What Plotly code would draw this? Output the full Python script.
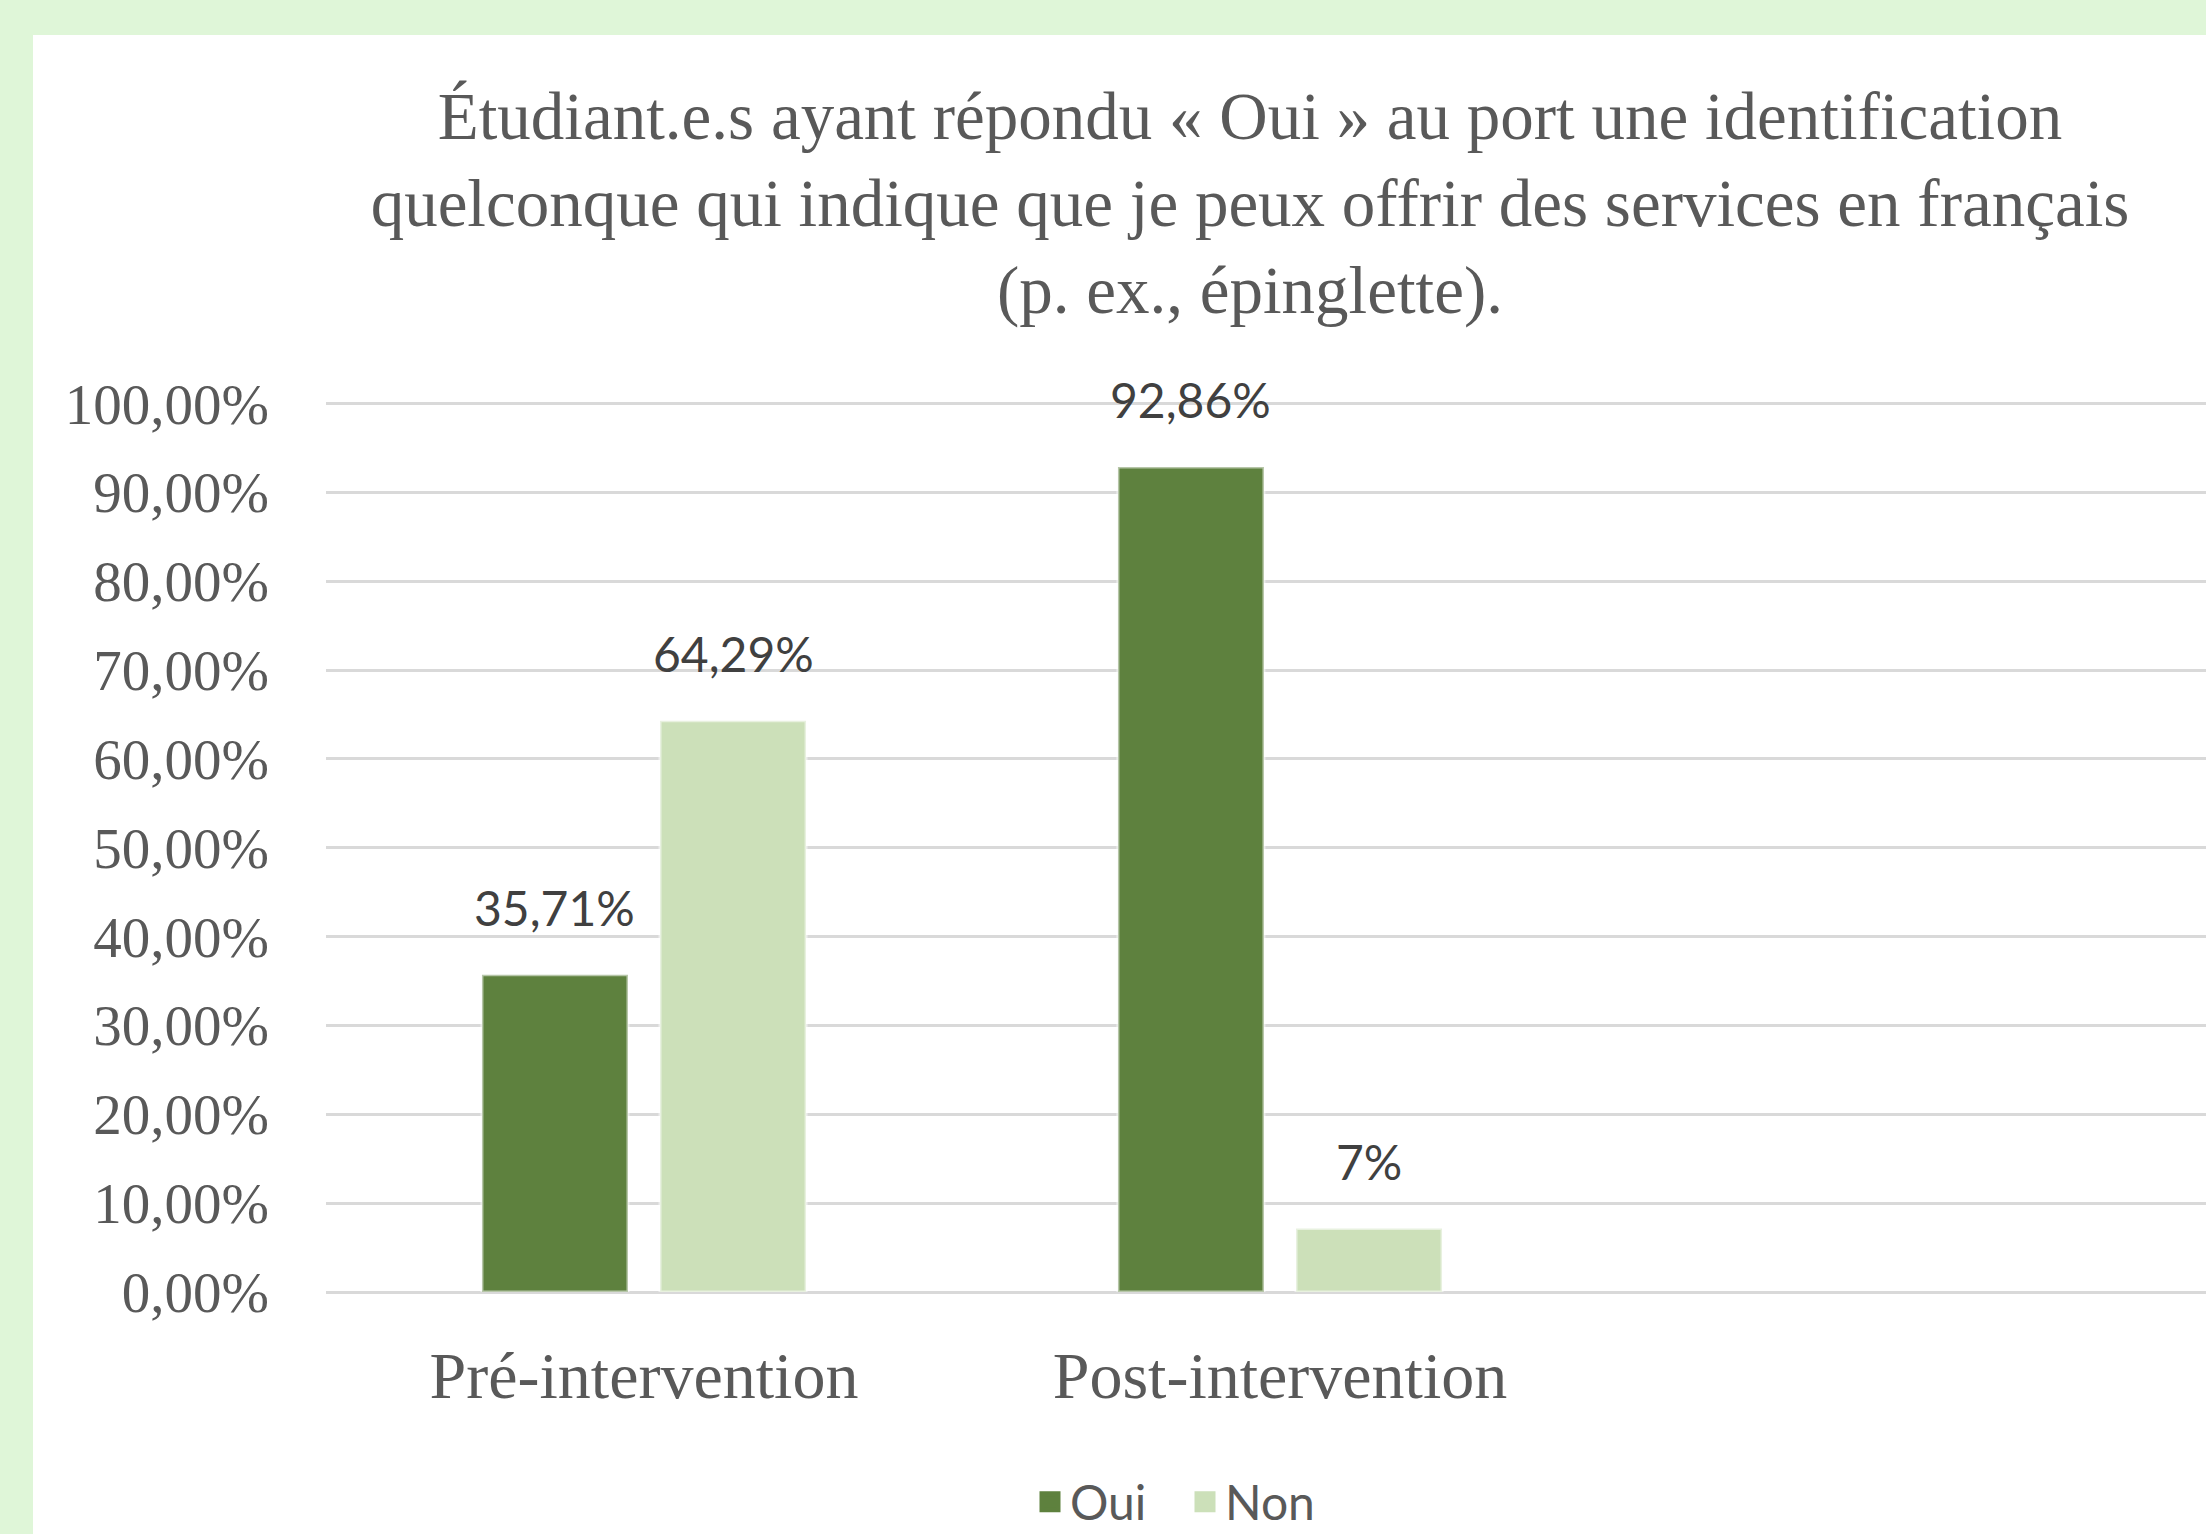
import plotly.graph_objects as go

categories = ["Pré-intervention", "Post-intervention"]
series_names = ["Oui", "Non"]
oui_values = [35.71, 92.86]
non_values = [64.29, 7.14]
oui_labels = ["35,71%", "92,86%"]
non_labels = ["64,29%", "7%"]
y_ticks = [0, 10, 20, 30, 40, 50, 60, 70, 80, 90, 100]
y_tick_labels = ["0,00%", "10,00%", "20,00%", "30,00%", "40,00%", "50,00%",
                 "60,00%", "70,00%", "80,00%", "90,00%", "100,00%"]

title_text = ("Étudiant.e.s ayant répondu « Oui » au port une identification<br>"
              "quelconque qui indique que je peux offrir des services en français<br>"
              "(p. ex., épinglette).")

W, H = 2206, 1534
ML, MR, MT, MB = 326, 0, 400, 242
X_RANGE = [-0.5, 2.456]
BARGAP = 0.44
BARGROUPGAP = 0.18

DARK = "#5E813E"
LIGHT = "#CCE0B9"
BORDER_GREEN = "#DFF6D8"
SERIF = "Liberation Serif, Times New Roman, serif"
SANS = "Lato, Carlito, Calibri, sans-serif"

fig = go.Figure()
fig.add_trace(go.Bar(name=series_names[0], x=categories, y=oui_values, showlegend=False,
                     marker=dict(color=DARK, line=dict(color="rgba(255,255,255,0.55)", width=3))))
fig.add_trace(go.Bar(name=series_names[1], x=categories, y=non_values, showlegend=False,
                     marker=dict(color=LIGHT, line=dict(color="rgba(255,255,255,0.55)", width=3))))

# legend entries (larger square swatches like the original)
for name, col in zip(series_names, [DARK, LIGHT]):
    fig.add_trace(go.Scatter(name=name, x=[None], y=[None], mode="markers",
                             marker=dict(symbol="square", size=16, color=col,
                                         line=dict(color=col, width=5))))

# data labels placed above each bar
plot_w = W - ML - MR
plot_h = H - MT - MB
cat_px = plot_w / (X_RANGE[1] - X_RANGE[0])
slot_px = cat_px * (1 - BARGAP) / 2
annotations = []
for si, (vals, labs) in enumerate([(oui_values, oui_labels), (non_values, non_labels)]):
    for c, v, t in zip(categories, vals, labs):
        annotations.append(dict(x=c, y=v, xref="x", yref="y", text=t, showarrow=False,
                                xshift=(si - 0.5) * slot_px, yshift=37, yanchor="bottom",
                                font=dict(family=SANS, size=48, color="#404040")))

fig.update_layout(
    width=W, height=H,
    margin=dict(l=ML, r=MR, t=MT, b=MB, pad=0),
    paper_bgcolor="white", plot_bgcolor="white",
    barmode="group", bargap=BARGAP, bargroupgap=BARGROUPGAP,
    title=dict(text=title_text, x=1250 / W, xanchor="center", xref="container",
               y=1 - 139 / H, yanchor="top", yref="container",
               font=dict(family=SERIF, size=67, color="#595959")),
    legend=dict(orientation="h", xref="container", yref="container",
                x=1030 / W, xanchor="left", y=32 / H, yanchor="middle",
                font=dict(family=SANS, size=48, color="#595959"),
                itemwidth=30, entrywidth=110, entrywidthmode="pixels",
                tracegroupgap=0, bgcolor="rgba(0,0,0,0)"),
    annotations=annotations,
    shapes=[
        dict(type="rect", xref="paper", yref="paper", layer="below",
             x0=-ML / plot_w - 0.01, x1=1.01, y0=1 + (MT - 35) / plot_h, y1=1 + MT / plot_h + 0.01,
             fillcolor=BORDER_GREEN, line=dict(width=0)),
        dict(type="rect", xref="paper", yref="paper", layer="below",
             x0=-ML / plot_w - 0.01, x1=(33 - ML) / plot_w, y0=-MB / plot_h - 0.01, y1=1 + MT / plot_h + 0.01,
             fillcolor=BORDER_GREEN, line=dict(width=0)),
    ],
    showlegend=True,
)
fig.update_xaxes(type="category", range=X_RANGE, showgrid=False, showline=False,
                 ticks="", ticklabelstandoff=39,
                 tickfont=dict(family=SERIF, size=66, color="#595959"))
fig.update_yaxes(range=[0, 100.4], tickvals=y_ticks, ticktext=y_tick_labels,
                 showgrid=True, gridcolor="#D9D9D9", gridwidth=2.5,
                 zeroline=True, zerolinecolor="#D9D9D9", zerolinewidth=2.5,
                 showline=False, ticks="", ticklabelstandoff=56,
                 tickfont=dict(family=SERIF, size=57, color="#595959"))

fig.write_html("out.html", config={"displayModeBar": False},
               post_script="document.body.style.margin='0';document.body.style.overflow='hidden';")
